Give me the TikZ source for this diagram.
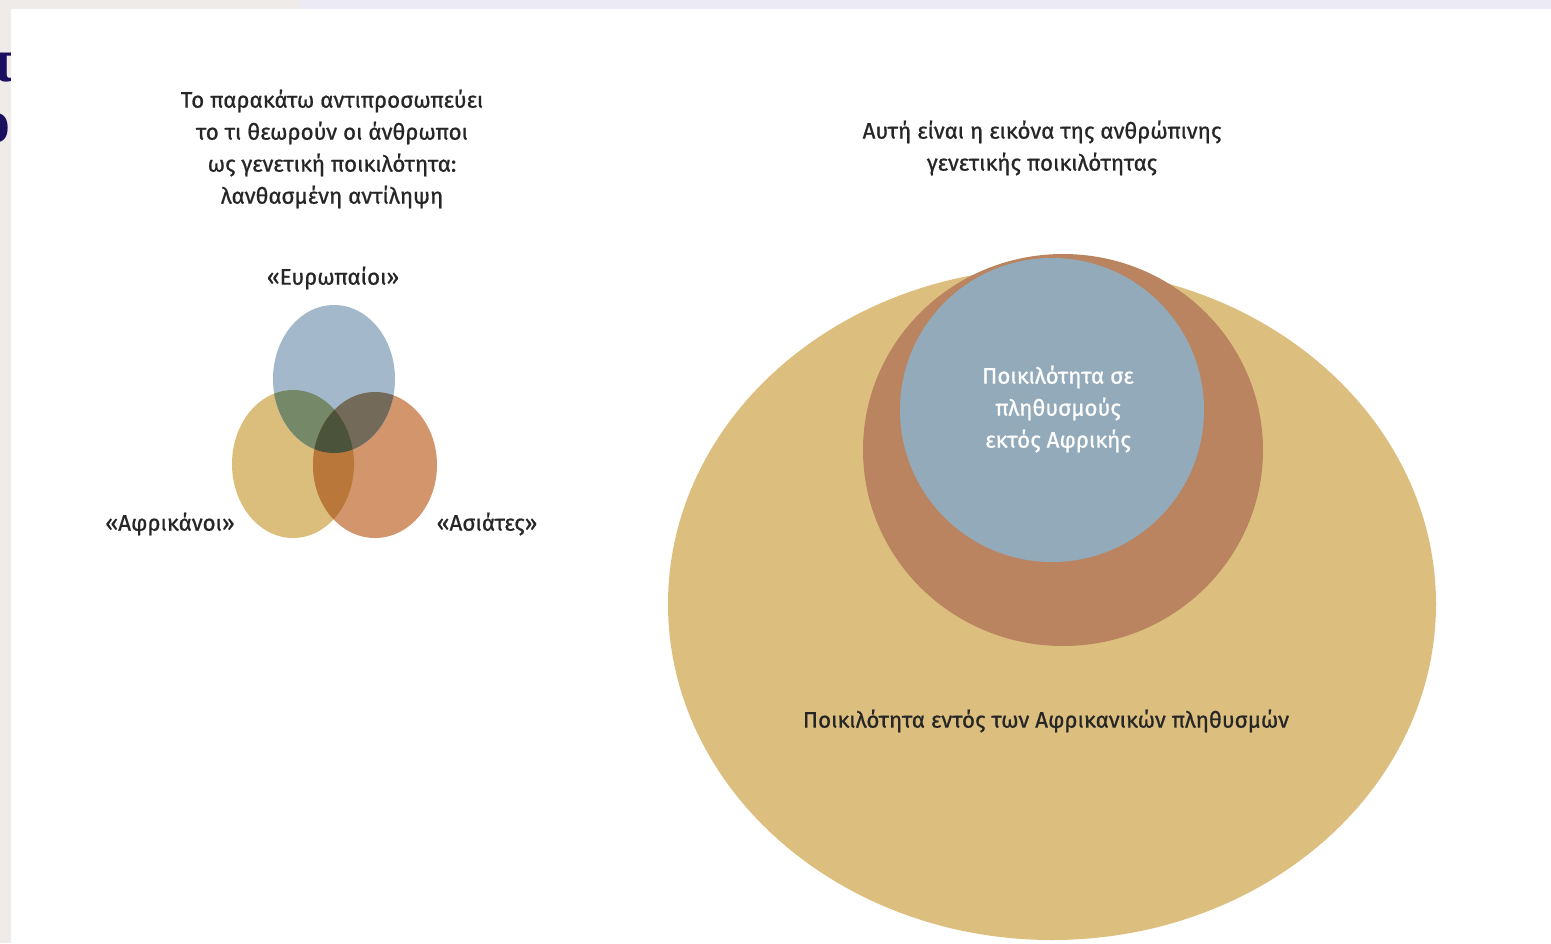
\documentclass[tikz,border=0pt]{standalone}
\usepackage{fontspec}
\setmainfont{Fira Sans}
\newfontfamily\medfont{Fira Sans}[FakeBold=0.8]
\newfontfamily\serifbold{Liberation Serif}
\definecolor{cBlue}{HTML}{A3B9CB}
\definecolor{cYel}{HTML}{DCBE7C}
\definecolor{cOra}{HTML}{D3966C}
\definecolor{cBY}{HTML}{758968}
\definecolor{cBO}{HTML}{746A5A}
\definecolor{cYO}{HTML}{B9783A}
\definecolor{cAll}{HTML}{4B533A}
\definecolor{bigYel}{HTML}{DCBF7E}
\definecolor{bigOra}{HTML}{B9845F}
\definecolor{bigBlue}{HTML}{93AABB}
\definecolor{txt}{HTML}{262626}
\definecolor{navy}{HTML}{1A0F5E}
\definecolor{stripL}{HTML}{EFEBE8}
\definecolor{stripT}{HTML}{ECEBF5}
\tikzset{
  lbl/.style={text=txt, font=\medfont\fontsize{22.4}{32}\selectfont, align=center, inner sep=0pt},
  wlbl/.style={text=white, font=\medfont\fontsize{22.4}{32}\selectfont, align=center, inner sep=0pt},
}
\begin{document}
\begin{tikzpicture}[x=1pt,y=-1pt]
\useasboundingbox (0,0) rectangle (1551,943);
% background strips
\fill[stripL] (0,0) rectangle (1551,943);
\fill[stripT] (300,0) rectangle (1551,9);
\node[anchor=east, inner sep=0pt, text=navy, font=\serifbold\bfseries\fontsize{62}{62}\selectfont] (lp) at (14,68) {π};
\node[anchor=east, inner sep=0pt, text=navy, font=\serifbold\bfseries\fontsize{62}{62}\selectfont] (lo) at (11,128) {ο};
\fill[white] (11,9) rectangle (1551,943);

% Venn diagram (misconception)
\fill[cYel] (293,464) ellipse [x radius=61, y radius=74];
\fill[cOra] (375,465) ellipse [x radius=62, y radius=73];
\fill[cBlue] (334,379) ellipse [x radius=61, y radius=74];
\begin{scope}
  \clip (334,379) ellipse [x radius=61, y radius=74];
  \fill[cBY] (293,464) ellipse [x radius=61, y radius=74];
  \fill[cBO] (375,465) ellipse [x radius=62, y radius=73];
\end{scope}
\begin{scope}
  \clip (293,464) ellipse [x radius=61, y radius=74];
  \fill[cYO] (375,465) ellipse [x radius=62, y radius=73];
  \clip (334,379) ellipse [x radius=61, y radius=74];
  \fill[cAll] (375,465) ellipse [x radius=62, y radius=73];
\end{scope}

\node[lbl] (ltitle) at (332,149) {Το παρακάτω αντιπροσωπεύει\\το τι θεωρούν οι άνθρωποι\\ως γενετική ποικιλότητα:\\λανθασμένη αντίληψη};
\node[lbl] (eur) at (333,278) {«Ευρωπαίοι»};
\node[lbl] (afr) at (170,524) {«Αφρικάνοι»};
\node[lbl] (asi) at (487,524) {«Ασιάτες»};

% Real picture
\fill[bigYel] (1052,604) ellipse [x radius=384, y radius=336];
\fill[bigOra] (1063,450) ellipse [x radius=200, y radius=196];
\fill[bigBlue] (1052,410) ellipse [x radius=152, y radius=152];

\node[lbl] (rtitle) at (1042,148) {Αυτή είναι η εικόνα της ανθρώπινης\\γενετικής ποικιλότητας};
\node[wlbl] (inner) at (1058,409) {Ποικιλότητα σε\\πληθυσμούς\\εκτός Αφρικής};
\node[lbl] (outer) at (1046,721) {Ποικιλότητα εντός των Αφρικανικών πληθυσμών};
\end{tikzpicture}
\end{document}
